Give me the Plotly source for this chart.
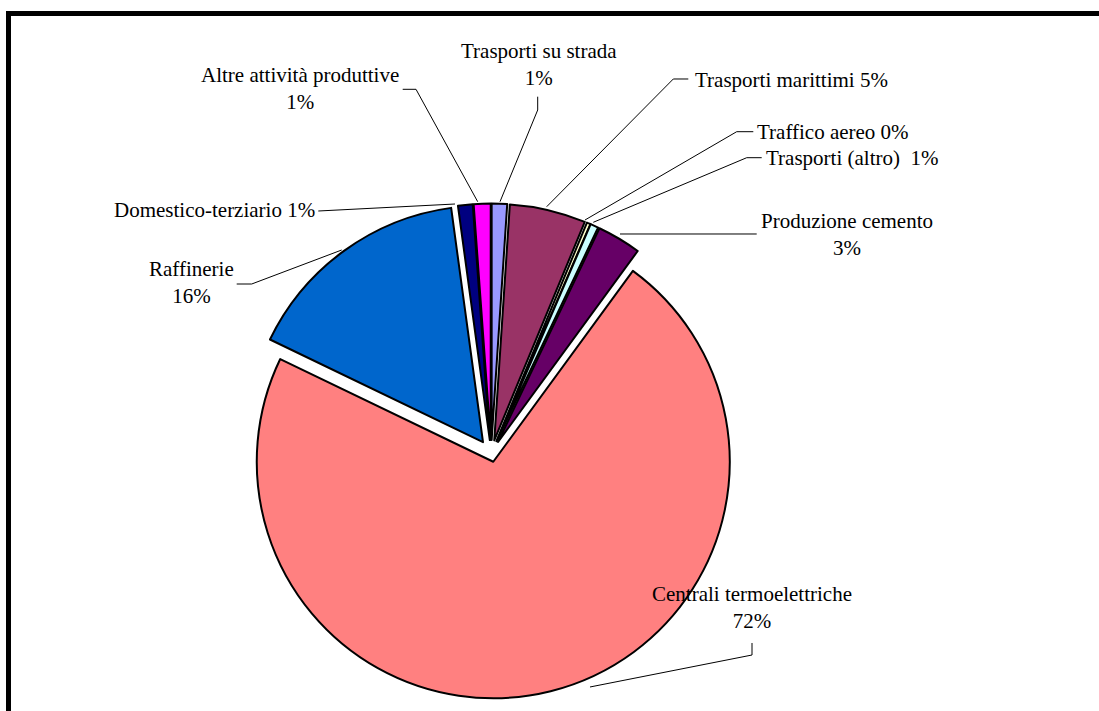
import plotly.graph_objects as go

# ---- data ----
categories = [
    "Trasporti su strada",
    "Trasporti marittimi",
    "Traffico aereo",
    "Trasporti (altro)",
    "Produzione cemento",
    "Centrali termoelettriche",
    "Raffinerie",
    "Domestico-terziario",
    "Altre attività produttive",
]
values = [1.05, 5.2, 0.25, 0.55, 3.0, 72.1, 15.7, 1.0, 1.15]
colors = ["#9999FF", "#993366", "#FFFFCC", "#CCFFFF", "#660066",
          "#FF8080", "#0066CC", "#000080", "#FF00FF"]
pulls = [0.057, 0.057, 0.057, 0.057, 0.057, 0.036, 0.059, 0.057, 0.057]

W, H = 1099, 711
FONT = "Liberation Serif, Times New Roman, serif"
FS = 21


def px(x):
    return x / W


def py(y):
    return 1 - y / H


total = sum(values)
pct = {c: f"{round(v / total * 100)}%" for c, v in zip(categories, values)}

# pie geometry (pixels): centre and radius incl. room for pull
cx, cy, r = 491.2, 453.5, 236.5
half = r * (1 + max(pulls))

fig = go.Figure(go.Pie(
    labels=categories,
    values=values,
    sort=False,
    direction="clockwise",
    rotation=0,
    pull=pulls,
    marker=dict(colors=colors, line=dict(color="black", width=2)),
    textinfo="none",
    hoverinfo="label+percent",
    showlegend=False,
    domain=dict(x=[px(cx) - 0.3, px(cx) + 0.3],
                y=[py(cy) - half / H, py(cy) + half / H]),
))

# ---- labels: (category, x, y, xanchor, two-line?) ----
label_specs = [
    ("Trasporti su strada", 539, 64.2, "center", True),
    ("Altre attività produttive", 300, 88, "center", True),
    ("Domestico-terziario", 316.7, 209.7, "right", False),
    ("Raffinerie", 191, 282.7, "center", True),
    ("Trasporti marittimi", 692.7, 79.7, "left", False),
    ("Traffico aereo", 755, 132, "left", False),
    ("Trasporti (altro)", 764, 158, "left", False),
    ("Produzione cemento", 846.7, 234.3, "center", True),
    ("Centrali termoelettriche", 752, 607, "center", True),
]
annotations = []
for cat, x, y, xa, two in label_specs:
    if two:
        txt = f"{cat}<br>{pct[cat]}"
    elif cat == "Trasporti (altro)":
        txt = f"{cat}\u00a0 {pct[cat]}"
    else:
        txt = f"{cat} {pct[cat]}"
    annotations.append(dict(
        text=txt, x=px(x), y=py(y), xref="paper", yref="paper",
        xanchor=xa, yanchor="middle", showarrow=False, align="center",
        font=dict(family=FONT, size=FS, color="black"),
    ))

# ---- leader lines (pixel polylines) ----
leaders = [
    [(537.7, 96.7), (537.7, 110), (500, 201.7)],
    [(402.7, 89.3), (416, 89.3), (477.7, 201.7)],
    [(318.3, 211), (455, 204)],
    [(236.7, 284), (251.7, 284), (341.7, 250)],
    [(688.3, 79), (673.3, 79), (546.7, 206.7)],
    [(753.3, 131.7), (736.7, 131.7), (585, 220)],
    [(761.7, 157.7), (746.7, 157.7), (593.3, 222.3)],
    [(756.7, 234), (620, 234)],
    [(752, 643), (752, 655), (590, 687)],
]
shapes = []
for pts in leaders:
    path = "M " + " L ".join(f"{px(x):.5f},{py(y):.5f}" for x, y in pts)
    shapes.append(dict(type="path", path=path, xref="paper", yref="paper",
                       line=dict(color="black", width=1)))

# chart frame: only the top and left edges are inside the picture
shapes.append(dict(type="line", xref="paper", yref="paper",
                   x0=px(6), y0=py(13.5), x1=px(1099), y1=py(13.5),
                   line=dict(color="black", width=5)))
shapes.append(dict(type="line", xref="paper", yref="paper",
                   x0=px(8.5), y0=py(11), x1=px(8.5), y1=py(711),
                   line=dict(color="black", width=5)))

fig.update_layout(
    width=W, height=H,
    margin=dict(l=0, r=0, t=0, b=0),
    paper_bgcolor="white", plot_bgcolor="white",
    annotations=annotations,
    shapes=shapes,
)

fig.write_html(
    "out.html",
    config={"displayModeBar": False},
    post_script="document.body.style.margin='0';"
                "document.body.style.overflow='hidden';",
)
